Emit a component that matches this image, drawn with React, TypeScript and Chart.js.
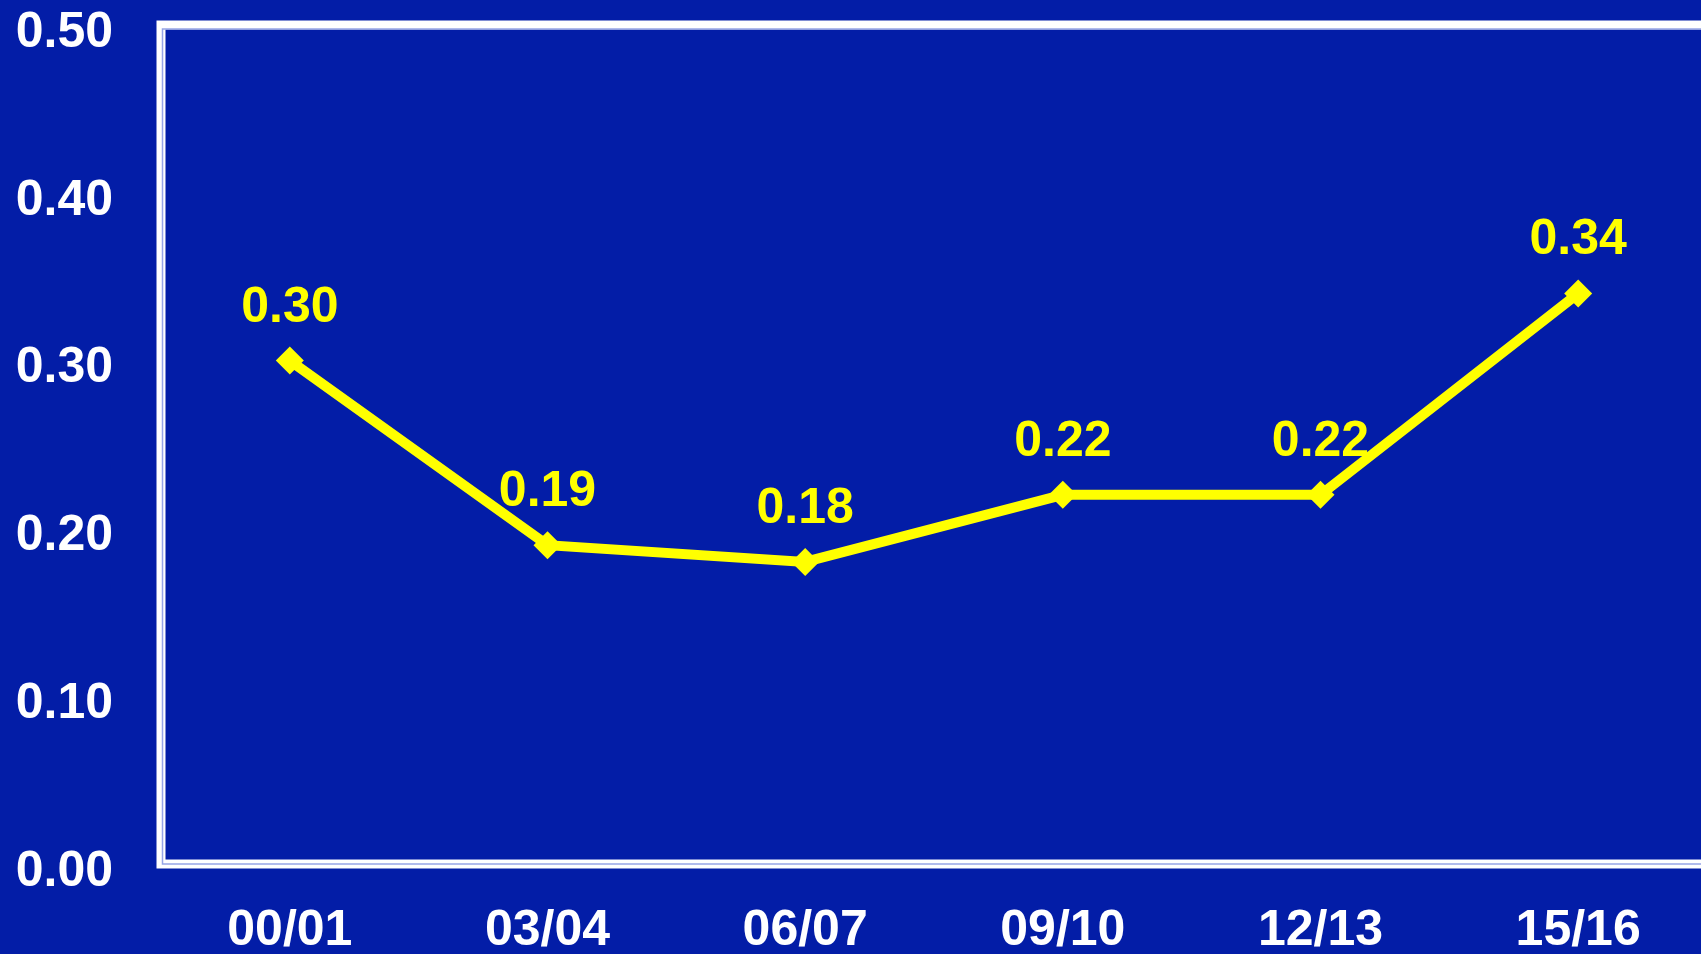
import React, { useEffect, useRef } from "react";
import { Chart, registerables } from "chart.js";

Chart.register(...registerables);

const categories = ["00/01", "03/04", "06/07", "09/10", "12/13", "15/16"];
const values = [0.3, 0.19, 0.18, 0.22, 0.22, 0.34];
const yTicks = [0, 0.1, 0.2, 0.3, 0.4, 0.5];

const BG = "#031DA7";
const YELLOW = "#FFFF00";
const FONT = "'Liberation Sans', Arial, Helvetica, sans-serif";

const framePlugin = {
  id: "frame",
  beforeDatasetsDraw(chart: any) {
    const { ctx, chartArea } = chart;
    const { left, top, right, bottom } = chartArea;
    ctx.save();
    ctx.strokeStyle = "#FFFFFF";
    ctx.lineWidth = 9;
    ctx.strokeRect(left, top, right - left, bottom - top);
    ctx.strokeStyle = "rgba(150,165,230,1)";
    ctx.lineWidth = 1.5;
    ctx.strokeRect(left + 1.5, top + 4, right - left - 3, bottom - top - 4);
    ctx.restore();
  },
};

const labelPlugin = {
  id: "valueLabels",
  afterDatasetsDraw(chart: any) {
    const { ctx } = chart;
    const meta = chart.getDatasetMeta(0);
    const data = chart.data.datasets[0].data as number[];
    ctx.save();
    ctx.fillStyle = YELLOW;
    ctx.font = `bold 50px ${FONT}`;
    ctx.textAlign = "center";
    ctx.textBaseline = "alphabetic";
    meta.data.forEach((pt: any, i: number) => {
      ctx.fillText(data[i].toFixed(2), pt.x, pt.y - 39);
    });
    ctx.restore();
  },
};

export default function App() {
  const ref = useRef<HTMLCanvasElement | null>(null);

  useEffect(() => {
    document.body.style.margin = "0";
    document.body.style.overflow = "hidden";
    document.body.style.background = BG;
    if (!ref.current) return;
    const chart = new Chart(ref.current, {
      type: "line",
      data: {
        labels: categories,
        datasets: [
          {
            data: values,
            borderColor: YELLOW,
            backgroundColor: YELLOW,
            borderWidth: 10,
            pointStyle: "rectRot",
            pointRadius: 14,
            pointBorderWidth: 0,
            pointBackgroundColor: YELLOW,
            tension: 0,
          },
        ],
      },
      options: {
        responsive: false,
        animation: false,
        devicePixelRatio: 1,
        layout: { padding: { top: 25, right: 6, left: 0, bottom: 0 } },
        plugins: {
          legend: { display: false },
          tooltip: { enabled: false },
        },
        scales: {
          x: {
            offset: true,
            grid: { display: false, drawTicks: false },
            border: { display: false },
            ticks: {
              color: "#FFFFFF",
              font: { family: FONT, size: 50, weight: "bold" },
              padding: 37,
              maxRotation: 0,
              autoSkip: false,
            },
            afterFit(scale: any) {
              scale.height = 90;
              scale.paddingLeft = 0;
              scale.paddingRight = 0;
            },
          },
          y: {
            min: 0,
            max: 0.5,
            afterBuildTicks(scale: any) {
              scale.ticks = yTicks.map((v) => ({ value: v }));
            },
            grid: { display: false, drawTicks: false },
            border: { display: false },
            ticks: {
              color: "#FFFFFF",
              font: { family: FONT, size: 50, weight: "bold" },
              padding: 48,
              labelOffset: 8,
              callback: (v: any) => Number(v).toFixed(2),
            },
            afterFit(scale: any) {
              scale.width = 161;
              scale.paddingTop = 0;
              scale.paddingBottom = 0;
            },
          },
        },
      },
      plugins: [framePlugin, labelPlugin],
    });
    return () => chart.destroy();
  }, []);

  return (
    <div style={{ width: 1701, height: 954, overflow: "hidden", background: BG, position: "relative" }}>
      <canvas ref={ref} width={1721} height={954} style={{ display: "block", width: 1721, height: 954 }} />
    </div>
  );
}
